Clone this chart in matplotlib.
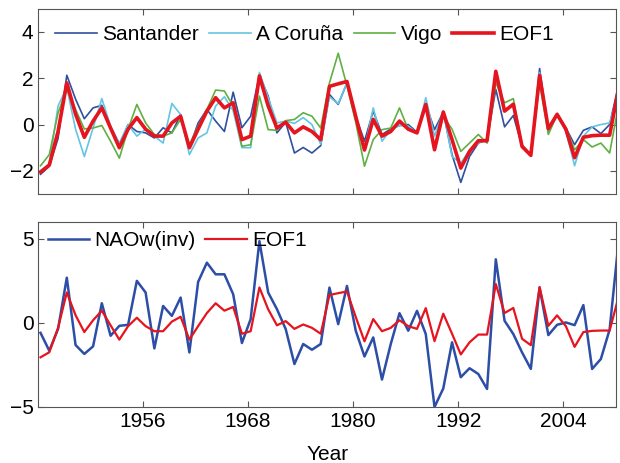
import numpy as np
import matplotlib
matplotlib.use('Agg')
import matplotlib.pyplot as plt

plt.rcParams['font.family'] = ['Liberation Sans', 'DejaVu Sans']
plt.rcParams['font.size'] = 15

# winter values, plotted slightly after the start of each year
years = np.arange(1944, 2011) + 0.3

santander = [-2.15, -1.8, -0.6, 2.13, 1.1, 0.25, 0.72, 0.83, -0.15, -0.87,
             0.0, -0.3, -0.36, -0.58, -0.14, -0.36, 0.43, -1.0, 0.07, 0.65,
             0.15, -0.3, 1.4, -0.14, 0.36, 2.13, 1.23, -0.36, 0.1, -1.23,
             -0.99, -1.23, -0.91, 1.3, 0.87, 1.8, 0.36, -0.72, 0.58, -0.43,
             -0.19, -0.04, 0.0, -0.33, 0.87, -0.22, 0.54, -1.3, -2.5, -1.38,
             -0.8, -0.65, 1.52, -0.1, 0.39, -0.94, -1.35, 2.42, -0.22, 0.48,
             -0.14, -0.87, -0.25, -0.1, -0.39, 0.0, 1.67]

coruna = [-2.0, -1.7, 0.8, 1.6, -0.2, -1.38, -0.15, 1.12, -0.07, -0.8,
          0.0, -0.5, -0.2, -0.5, -0.8, 0.91, 0.43, -1.3, -0.58, -0.36,
          0.8, 1.2, 0.6, -1.0, -1.0, 2.25, 1.16, 0.07, 0.15, 0.05,
          0.3, 0.0, -0.85, 1.2, 0.9, 1.8, 0.4, -1.1, 0.72, -0.72,
          -0.22, -0.04, -0.07, -0.36, 1.16, -0.5, 0.58, -1.38, -1.67, -1.1,
          -0.8, -0.6, 2.25, 0.65, 0.87, -0.94, -1.35, 2.25, -0.36, 0.43,
          -0.29, -1.78, -0.5, -0.1, 0.0, 0.07, 1.3]

vigo = [-1.78, -1.3, 0.5, 1.52, 0.65, -0.19, -0.15, -0.04, -0.72, -1.45,
        -0.2, 0.87, 0.07, -0.43, -0.5, -0.36, 0.22, -0.87, -0.07, 0.65,
        1.49, 1.45, 0.8, -0.94, -0.87, 1.23, -0.22, -0.25, 0.17, 0.22,
        0.51, 0.36, -0.15, 1.8, 3.08, 1.67, 0.1, -1.8, -0.65, -0.22,
        -0.15, 0.72, -0.22, -0.36, 0.8, -1.09, 0.36, -0.2, -1.16, -0.8,
        -0.43, -0.8, 1.81, 0.94, 1.12, -0.87, -1.3, 1.8, -0.43, 0.43,
        -0.14, -1.09, -0.65, -0.97, -0.8, -1.23, 0.8]

eof1 = [-2.05, -1.75, -0.3, 1.8, 0.45, -0.55, 0.15, 0.72, -0.15, -1.0,
        -0.2, 0.3, -0.2, -0.5, -0.5, 0.07, 0.36, -1.0, -0.2, 0.58,
        1.16, 0.72, 0.94, -0.65, -0.5, 2.1, 0.8, -0.15, 0.1, -0.36,
        -0.1, -0.3, -0.65, 1.65, 1.76, 1.86, 0.35, -1.1, 0.22, -0.5,
        -0.3, 0.15, -0.2, -0.36, 0.87, -1.09, 0.54, -0.65, -1.88, -1.16,
        -0.7, -0.7, 2.3, 0.58, 0.88, -0.95, -1.33, 2.12, -0.18, 0.44,
        -0.2, -1.43, -0.55, -0.48, -0.46, -0.46, 1.5]

nao_inv = [-0.6, -1.66, -0.37, 2.68, -1.32, -1.85, -1.4, 1.16, -0.77, -0.18,
           -0.12, 2.49, 1.8, -1.52, 1.0, 0.41, 1.5, -1.76, 2.43, 3.57,
           2.88, 2.88, 1.7, -1.2, 0.22, 4.85, 1.8, 0.81, -0.37, -2.45,
           -1.26, -1.6, -1.26, 2.09, -0.08, 2.19, -0.47, -2.0, -0.87, -3.37,
           -1.26, 0.57, -0.47, 0.71, -0.67, -5.0, -3.9, -1.16, -3.23, -2.7,
           -3.04, -3.93, 3.77, 0.12, -0.67, -1.76, -2.74, 2.09, -0.73, -0.12,
           0.02, -0.14, 1.05, -2.74, -2.15, -0.4, 4.7]

xticks = [1956, 1968, 1980, 1992, 2004]

fig = plt.figure(figsize=(6.2, 4.63), dpi=100)
ax1 = fig.add_axes([0.062, 0.581, 0.932, 0.40])
ax2 = fig.add_axes([0.062, 0.121, 0.932, 0.40])

ax1.plot(years, santander, color='#2f4f9f', linewidth=1.2, label='Santander')
ax1.plot(years, coruna, color='#62c6e2', linewidth=1.2, label='A Coruña')
ax1.plot(years, vigo, color='#5fb043', linewidth=1.2, label='Vigo')
ax1.plot(years, eof1, color='#e5141e', linewidth=2.6, label='EOF1')
ax1.set_ylim(-3, 5)
ax1.set_yticks([-2, 0, 2, 4])
ax1.set_xticklabels([])
ax1.legend(loc='upper left', ncol=4, frameon=False, bbox_to_anchor=(0.0, 1.0),
           handlelength=2.0, handletextpad=0.25, columnspacing=0.5,
           borderaxespad=0.4, fontsize=15)

ax2.plot(years, nao_inv, color='#2c4ea6', linewidth=1.8, label='NAOw(inv)')
ax2.plot(years, eof1, color='#e5141e', linewidth=1.6, label='EOF1')
ax2.set_ylim(-5, 6)
ax2.set_yticks([-5, 0, 5])
ax2.set_xlabel('Year', labelpad=10)
ax2.legend(loc='upper left', ncol=2, frameon=False, bbox_to_anchor=(0.0, 1.0),
           handlelength=2.0, handletextpad=0.25, columnspacing=0.45,
           borderaxespad=0.05, fontsize=15)

for ax in (ax1, ax2):
    ax.set_xlim(1944.06, 2010.06)
    ax.set_xticks(xticks)
    ax.tick_params(direction='in', top=True, right=True, length=4,
                   labelsize=15, color='#555555')
    for spine in ax.spines.values():
        spine.set_color('#555555')

plt.savefig('out.png', dpi=100)
